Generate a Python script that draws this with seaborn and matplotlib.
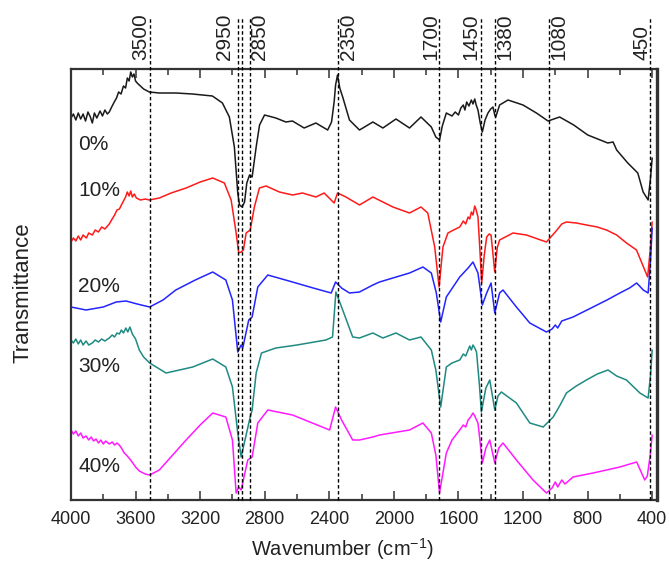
import matplotlib
matplotlib.use('Agg')
import matplotlib.pyplot as plt
import matplotlib.transforms as mtransforms
from matplotlib.ticker import MultipleLocator
import pandas as pd
import seaborn as sns

# FTIR spectra, transmittance in arbitrary (stacked) units
samples = ['0%', '10%', '20%', '30%', '40%']
colors = ['#1a1a1a', '#ff1a1a', '#2424ff', '#1f8a82', '#ff1aff']

wn_0 = [4000, 3985, 3970, 3955, 3940, 3925, 3910, 3895, 3880, 3868, 3855, 3840, 3820, 3805, 3790, 3775,
        3763, 3748, 3732, 3718, 3705, 3690, 3675, 3662, 3651, 3640, 3630, 3620, 3610, 3600, 3590, 3577,
        3550, 3515, 3453, 3350, 3248, 3124, 3062, 3019, 2988, 2967, 2956, 2940, 2925, 2911, 2894, 2878,
        2853, 2832, 2801, 2731, 2669, 2628, 2556, 2483, 2410, 2386, 2370, 2361, 2349, 2335, 2317, 2275,
        2213, 2130, 2068, 1987, 1903, 1832, 1768, 1740, 1717, 1700, 1675, 1640, 1620, 1600, 1585, 1570,
        1560, 1549, 1535, 1520, 1510, 1499, 1490, 1479, 1465, 1452, 1435, 1417, 1400, 1386, 1375, 1369,
        1345, 1293, 1200, 1117, 1045, 973, 886, 799, 675, 642, 620, 551, 489, 456, 425, 410, 400]
t_0 = [382, 386, 380, 387, 381, 386, 379, 388, 383, 377, 387, 382, 389, 384, 390, 386,
       388, 393, 398, 402, 408, 406, 414, 412, 422, 419, 428, 423, 426, 419, 417, 415,
       411, 408, 407, 407, 406, 404, 397, 383, 353, 307, 295, 293, 298, 317, 325, 323,
       353, 375, 385, 382, 378, 379, 372, 377, 370, 378, 398, 415, 425, 412, 403, 380,
       370, 378, 372, 381, 372, 383, 373, 363, 360, 374, 387, 384, 388, 385, 392, 395,
       390, 398, 394, 400, 396, 401, 395, 390, 377, 368, 380, 387, 391, 393, 385, 383,
       395, 400, 395, 387, 379, 383, 375, 365, 357, 358, 350, 337, 327, 308, 300, 322, 342]

wn_1 = [4000, 3985, 3970, 3955, 3940, 3925, 3905, 3890, 3868, 3850, 3830, 3810, 3790, 3763, 3745, 3730,
        3715, 3700, 3688, 3675, 3662, 3651, 3640, 3630, 3620, 3608, 3595, 3570, 3540, 3515, 3453, 3380,
        3287, 3200, 3122, 3050, 3008, 2977, 2961, 2946, 2932, 2915, 2890, 2864, 2833, 2792, 2709, 2628,
        2566, 2483, 2432, 2370, 2349, 2297, 2213, 2130, 2006, 1903, 1832, 1790, 1747, 1720, 1696, 1665,
        1630, 1592, 1570, 1555, 1540, 1530, 1520, 1510, 1499, 1490, 1479, 1467, 1456, 1440, 1425, 1410,
        1398, 1375, 1360, 1345, 1262, 1179, 1055, 1000, 960, 931, 870, 807, 740, 683, 620, 559, 497,
        446, 428, 412, 400]
t_1 = [258, 262, 259, 264, 260, 265, 262, 267, 265, 270, 268, 273, 271, 276, 281, 285,
       290, 291, 295, 299, 303, 308, 304, 309, 303, 306, 302, 300, 301, 300, 302, 307,
       312, 318, 322, 317, 300, 267, 247, 248, 250, 267, 270, 293, 312, 314, 308, 305,
       307, 303, 307, 297, 307, 303, 295, 303, 293, 287, 293, 287, 253, 213, 253, 267,
       270, 273, 279, 276, 283, 281, 288, 285, 294, 290, 283, 250, 217, 245, 263, 266,
       265, 228, 252, 260, 267, 265, 258, 268, 276, 278, 277, 275, 273, 270, 265, 257, 250,
       230, 223, 250, 278]

wn_2 = [4000, 3907, 3800, 3720, 3659, 3590, 3513, 3430, 3351, 3230, 3122, 3041, 3000, 2967, 2946, 2936,
        2899, 2878, 2843, 2781, 2628, 2500, 2388, 2361, 2324, 2275, 2213, 2130, 2089, 1903, 1820, 1768,
        1737, 1710, 1675, 1592, 1540, 1510, 1479, 1452, 1425, 1398, 1375, 1345, 1324, 1241, 1158, 1055,
        1020, 1000, 985, 960, 890, 766, 680, 600, 540, 496, 455, 425, 410, 400]
t_2 = [193, 190, 193, 198, 199, 196, 193, 200, 210, 220, 228, 220, 200, 148, 155, 152,
       180, 183, 213, 225, 218, 212, 207, 218, 212, 207, 208, 215, 218, 227, 233, 227,
       207, 178, 203, 223, 232, 238, 227, 195, 207, 217, 187, 207, 210, 193, 177, 168,
       171, 175, 172, 179, 183, 193, 200, 207, 212, 217, 210, 207, 240, 272]

wn_3 = [4000, 3985, 3970, 3955, 3940, 3925, 3907, 3890, 3868, 3850, 3830, 3810, 3790, 3763, 3745, 3730,
        3715, 3700, 3688, 3675, 3660, 3648, 3635, 3620, 3600, 3577, 3550, 3513, 3411, 3246, 3122, 3041,
        3000, 2967, 2946, 2932, 2890, 2878, 2853, 2820, 2731, 2600, 2421, 2380, 2359, 2317, 2255, 2213,
        2130, 2068, 1987, 1903, 1832, 1768, 1740, 1710, 1675, 1640, 1592, 1570, 1555, 1540, 1530, 1520,
        1510, 1499, 1488, 1470, 1458, 1430, 1406, 1375, 1355, 1334, 1241, 1158, 1075, 1013, 970, 931,
        870, 807, 740, 673, 620, 559, 476, 425, 410, 400]
t_3 = [160, 157, 161, 156, 160, 155, 159, 155, 157, 160, 158, 161, 159, 162, 165, 163,
       167, 166, 170, 167, 172, 168, 173, 166, 161, 150, 143, 137, 127, 133, 141, 133,
       113, 67, 43, 53, 83, 90, 127, 147, 152, 155, 160, 163, 208, 190, 163, 162,
       167, 162, 167, 160, 163, 150, 130, 93, 133, 137, 140, 146, 144, 150, 154, 150,
       155, 152, 148, 115, 88, 112, 120, 90, 104, 108, 97, 77, 73, 83, 95, 107,
       114, 120, 126, 130, 124, 120, 107, 102, 125, 150]

wn_4 = [4000, 3985, 3970, 3955, 3940, 3925, 3907, 3890, 3875, 3860, 3845, 3830, 3815, 3800, 3785, 3763,
        3745, 3730, 3715, 3701, 3688, 3670, 3651, 3626, 3600, 3577, 3540, 3513, 3453, 3370, 3287, 3200,
        3122, 3041, 3000, 2977, 2961, 2946, 2905, 2878, 2843, 2781, 2628, 2398, 2361, 2324, 2255, 2213,
        2130, 2089, 1903, 1820, 1768, 1740, 1717, 1675, 1640, 1592, 1570, 1555, 1540, 1525, 1510, 1499,
        1479, 1465, 1452, 1430, 1406, 1375, 1350, 1324, 1241, 1138, 1055, 1020, 1000, 985, 960, 940,
        890, 766, 600, 496, 446, 430, 412, 400]
t_4 = [70, 66, 69, 64, 67, 62, 64, 60, 63, 59, 61, 57, 60, 56, 59, 56,
       58, 55, 57, 55, 52, 47, 44, 39, 33, 29, 26, 25, 30, 45, 60, 75,
       87, 83, 60, 7, 13, 10, 40, 43, 77, 90, 85, 70, 93, 80, 60, 60,
       63, 65, 70, 77, 67, 45, 7, 47, 60, 70, 75, 73, 80, 83, 87, 84,
       77, 57, 37, 52, 60, 37, 52, 57, 40, 20, 7, 12, 18, 13, 20, 16,
       23, 27, 33, 38, 20, 24, 45, 65]

# marked bands: where the dashed lines sit and what they are called
band_pos = [3510, 2965, 2938, 2892, 2343, 1720, 1463, 1375, 1042, 414]
band_text = ['3500', '2950', '', '2850', '2350', '1700', '1450', '1380', '1080', '450']
band_dx = [-9, -14, 0, 10, 10, -8, -10, 10, 10, -8]  # label offset from line, px

label_y = [356, 310, 214, 134, 34]

frames = []
for name, wn, t in zip(samples, [wn_0, wn_1, wn_2, wn_3, wn_4], [t_0, t_1, t_2, t_3, t_4]):
    frames.append(pd.DataFrame({'wavenumber': wn, 'T': t, 'sample': name}))
df = pd.concat(frames, ignore_index=True)

sns.set_style('ticks')
plt.rcParams['font.family'] = ['Liberation Sans', 'DejaVu Sans']
plt.rcParams['mathtext.fontset'] = 'custom'
plt.rcParams['mathtext.rm'] = 'Liberation Sans'
plt.rcParams['mathtext.it'] = 'Liberation Sans:italic'

fig = plt.figure(figsize=(6.69, 5.62), dpi=100)
ax = fig.add_axes([71 / 669, 62 / 562, 586 / 669, 431 / 562])

sns.lineplot(data=df, x='wavenumber', y='T', hue='sample', palette=dict(zip(samples, colors)),
             estimator=None, legend=False, linewidth=1.1, ax=ax)

ax.set_xlim(4000, 370)
ax.set_ylim(0, 431)
ax.set_yticks([])
ax.xaxis.set_major_locator(MultipleLocator(400))
ax.xaxis.set_minor_locator(MultipleLocator(200))
ax.tick_params(axis='x', which='both', direction='in', top=True, bottom=True, width=1.1, colors='#333333')
ax.tick_params(axis='x', which='major', length=6.5, pad=8, labelsize=13, labelcolor='#222222')
ax.tick_params(axis='x', which='minor', length=4.3)
for sp in ax.spines.values():
    sp.set_linewidth(1.6)
    sp.set_color('#333333')
ax.spines['right'].set_linewidth(2.4)

ax.set_xlabel('Wavenumber (cm$^{-1}$)', fontsize=14.5, color='#222222')
ax.xaxis.set_label_coords(271 / 586, -36 / 431)
ax.set_ylabel('Transmittance', fontsize=16, color='#222222')
ax.yaxis.set_label_coords(-38 / 586, 207 / 431)

trans = mtransforms.blended_transform_factory(ax.transData, ax.transAxes)
for pos, txt, dx in zip(band_pos, band_text, band_dx):
    ax.axvline(pos, ymin=0, ymax=1.12, color='black', lw=1.0, ls=(0, (2.5, 1.8)), clip_on=False, zorder=3)
    if txt:
        ax.annotate(txt, xy=(pos, 1.02), xycoords=trans, xytext=(dx * 0.72, 0), textcoords='offset points',
                    rotation=90, ha='center', va='bottom', fontsize=15, color='#222222')

ltrans = mtransforms.blended_transform_factory(ax.transAxes, ax.transData)
for name, y in zip(samples, label_y):
    ax.text(0.012, y, name, transform=ltrans, fontsize=15, ha='left', va='center', color='#222222')

plt.savefig('out.png', dpi=100)
